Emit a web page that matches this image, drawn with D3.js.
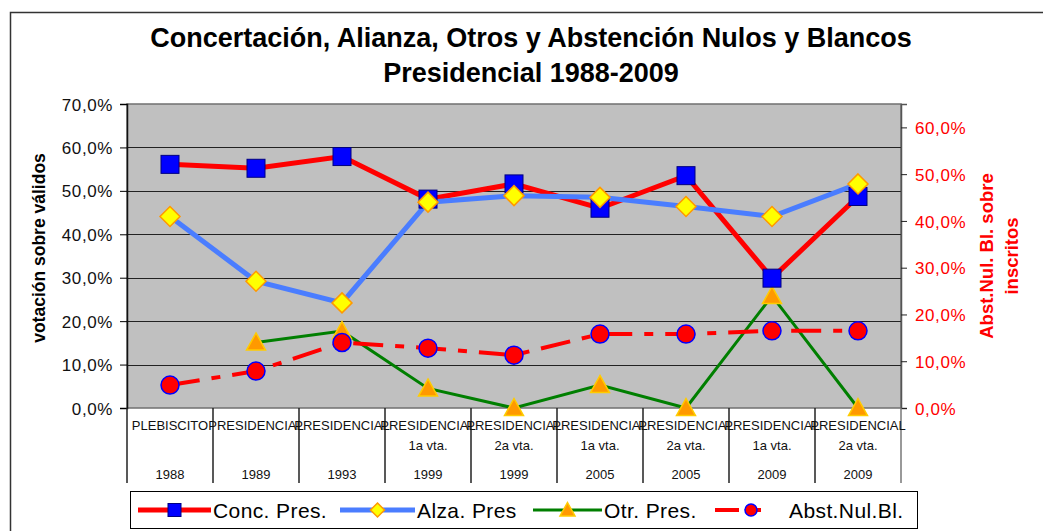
<!DOCTYPE html>
<html>
<head>
<meta charset="utf-8">
<script src="https://cdn.jsdelivr.net/npm/d3@7"></script>
<style>
  body { margin: 0; background: #fff; }
  svg, svg text { font-family: "Liberation Sans", Arial, sans-serif; }
</style>
</head>
<body>
<div id="graph"></div>
<script>
// categories (three-level axis)
var catTop = ["PLEBISCITO", "PRESIDENCIAL", "PRESIDENCIAL", "PRESIDENCIAL", "PRESIDENCIAL", "PRESIDENCIAL", "PRESIDENCIAL", "PRESIDENCIAL", "PRESIDENCIAL"];
var catMid = ["", "", "", "1a vta.", "2a vta.", "1a vta.", "2a vta.", "1a vta.", "2a vta."];
var catYear = ["1988", "1989", "1993", "1999", "1999", "2005", "2005", "2009", "2009"];

// series (percent)
var concPres = [56.1, 55.2, 57.9, 48.1, 51.6, 46.0, 53.5, 29.9, 48.7];
var alzaPres = [44.1, 29.2, 24.2, 47.4, 48.9, 48.5, 46.4, 44.1, 51.6];
var otrPres = [null, 15.1, 17.7, 4.5, 0, 5.3, 0, 25.8, 0];
var abstNulBl = [4.9, 7.9, 14.0, 12.8, 11.3, 15.8, 15.8, 16.5, 16.5]; // right axis

var leftTicks = [0, 10, 20, 30, 40, 50, 60, 70];
var rightTicks = [0, 10, 20, 30, 40, 50, 60];

var W = 1043, H = 531;
var plot = {left: 127, right: 901, top: 104, bottom: 408};

var svg = d3.select("#graph").append("svg")
  .attr("width", W).attr("height", H);

// outer chart frame
svg.append("rect")
  .attr("x", 10.5).attr("y", 12.5).attr("width", W + 10).attr("height", H + 10)
  .attr("fill", "none").attr("stroke", "#333").attr("stroke-width", 1.5);

var xScale = d3.scaleBand().domain(d3.range(catTop.length))
  .range([plot.left, plot.right]);
var yLeft = d3.scaleLinear().domain([0, 70]).range([plot.bottom, plot.top]);
var yRight = d3.scaleLinear().domain([0, 65]).range([plot.bottom, plot.top]);
var cx = function(i) { return xScale(i) + xScale.bandwidth() / 2; };
var pct = function(d) { return d.toFixed(1).replace(".", ",") + "%"; };

// plot background
svg.append("rect")
  .attr("x", plot.left).attr("y", plot.top)
  .attr("width", plot.right - plot.left).attr("height", plot.bottom - plot.top)
  .attr("fill", "#c0c0c0").attr("stroke", "#707070").attr("stroke-width", 1.5);

// gridlines
svg.append("g").selectAll("line").data(leftTicks.slice(1, -1)).enter().append("line")
  .attr("x1", plot.left).attr("x2", plot.right)
  .attr("y1", function(d) { return Math.round(yLeft(d)) + 0.5; })
  .attr("y2", function(d) { return Math.round(yLeft(d)) + 0.5; })
  .attr("stroke", "#222").attr("stroke-width", 1);

// left axis
var axL = svg.append("g")
  .attr("transform", "translate(" + plot.left + ",0)")
  .call(d3.axisLeft(yLeft).tickValues(leftTicks).tickSize(7).tickPadding(7).tickFormat(pct));
axL.attr("font-family", "Liberation Sans, Arial, sans-serif").attr("font-size", 17);
axL.select(".domain").attr("stroke", "#111").attr("stroke-width", 1.5);
axL.selectAll("text").attr("fill", "#111").attr("dy", "0.36em").attr("letter-spacing", 0.6);

// right axis
var axR = svg.append("g")
  .attr("transform", "translate(" + plot.right + ",0)")
  .call(d3.axisRight(yRight).tickValues(rightTicks).tickSize(6).tickPadding(8).tickFormat(pct));
axR.attr("font-family", "Liberation Sans, Arial, sans-serif").attr("font-size", 17);
axR.select(".domain").attr("stroke", "#555").attr("stroke-width", 1.5);
axR.selectAll("line").attr("stroke", "#222");
axR.selectAll("text").attr("fill", "#ff0000").attr("dy", "0.36em").attr("letter-spacing", 0.6);

// category separators & labels
var cats = svg.append("g");
cats.selectAll("line").data(d3.range(catTop.length + 1)).enter().append("line")
  .attr("x1", function(i) { return plot.left + i * xScale.bandwidth(); })
  .attr("x2", function(i) { return plot.left + i * xScale.bandwidth(); })
  .attr("y1", plot.bottom).attr("y2", 483)
  .attr("stroke", function(i) { return i === catTop.length ? "#777" : "#222"; })
  .attr("stroke-width", 1.5);
[[catTop, 430], [catMid, 450], [catYear, 479]].forEach(function(row) {
  cats.append("g").selectAll("text").data(row[0]).enter().append("text")
    .attr("x", function(d, i) { return cx(i); })
    .attr("y", row[1])
    .attr("text-anchor", "middle")
    .attr("font-size", 13).attr("fill", "#111")
    .text(function(d) { return d; });
});

// line series
function drawLine(data, y, color, width, dash) {
  var line = d3.line()
    .defined(function(d) { return d !== null; })
    .x(function(d, i) { return cx(i); })
    .y(function(d) { return y(d); });
  svg.append("path").datum(data)
    .attr("d", line)
    .attr("fill", "none").attr("stroke", color).attr("stroke-width", width)
    .attr("stroke-dasharray", dash || null);
}
drawLine(concPres, yLeft, "#ff0000", 5);
drawLine(alzaPres, yLeft, "#4a7dff", 5);
drawLine(otrPres, yLeft, "#007f00", 3);
drawLine(abstNulBl, yRight, "#ff0000", 4, "30,12,9,12");

// markers
function square(g, x, y, s) {
  g.append("rect").attr("x", x - s / 2).attr("y", y - s / 2).attr("width", s).attr("height", s)
    .attr("fill", "#0000ff").attr("stroke", "#000080").attr("stroke-width", 1);
}
function diamond(g, x, y, s) {
  g.append("path").attr("d", "M" + x + "," + (y - s) + "L" + (x + s) + "," + y + "L" + x + "," + (y + s) + "L" + (x - s) + "," + y + "Z")
    .attr("fill", "#ffff00").attr("stroke", "#ff9900").attr("stroke-width", 1.5);
}
function triangle(g, x, y, s) {
  g.append("path").attr("d", "M" + x + "," + (y - s) + "L" + (x + s) + "," + (y + s * 0.8) + "L" + (x - s) + "," + (y + s * 0.8) + "Z")
    .attr("fill", "#ff9900").attr("stroke", "#ffcc00").attr("stroke-width", 1.5);
}
function circle(g, x, y, r) {
  g.append("circle").attr("cx", x).attr("cy", y).attr("r", r)
    .attr("fill", "#ff0000").attr("stroke", "#0000ff").attr("stroke-width", 1.5);
}
var mk = svg.append("g");
otrPres.forEach(function(v, i) { if (v !== null) triangle(mk, cx(i), yLeft(v), 9.5); });
abstNulBl.forEach(function(v, i) { circle(mk, cx(i), yRight(v), 9); });
concPres.forEach(function(v, i) { square(mk, cx(i), yLeft(v), 18); });
alzaPres.forEach(function(v, i) { diamond(mk, cx(i), yLeft(v), 10); });

// title
var title = svg.append("text").attr("text-anchor", "middle")
  .attr("font-size", 27).attr("font-weight", "bold").attr("fill", "#000");
title.append("tspan").attr("x", 531).attr("y", 47).text("Concertación, Alianza, Otros y Abstención Nulos y Blancos");
title.append("tspan").attr("x", 531).attr("y", 82).text("Presidencial 1988-2009");

// axis titles
svg.append("text")
  .attr("transform", "translate(45,248) rotate(-90)")
  .attr("text-anchor", "middle").attr("font-size", 17.5).attr("font-weight", "bold")
  .text("votación sobre  válidos");
var rt = svg.append("text")
  .attr("transform", "translate(993,256) rotate(-90)")
  .attr("text-anchor", "middle").attr("font-size", 18.5).attr("font-weight", "bold").attr("fill", "#ff0000");
rt.append("tspan").attr("x", 0).attr("y", 0).text("Abst.Nul. Bl. sobre");
rt.append("tspan").attr("x", 0).attr("y", 25).text("inscritos");

// legend
var lg = svg.append("g");
lg.append("rect").attr("x", 130.5).attr("y", 491.5).attr("width", 787).attr("height", 37)
  .attr("fill", "#fff").attr("stroke", "#000").attr("stroke-width", 1);
var legendItems = [
  {name: "Conc. Pres.", x: 138, len: 73, color: "#ff0000", w: 5, mark: square, size: 13},
  {name: "Alza. Pres", x: 340, len: 75, color: "#4a7dff", w: 5, mark: diamond, size: 7},
  {name: "Otr. Pres.", x: 533, len: 69, color: "#007f00", w: 3, mark: triangle, size: 7.5},
  {name: "Abst.Nul.Bl.", x: 715, len: 72, color: "#ff0000", w: 4, mark: circle, size: 6, dash: "24,12,10,30"}
];
legendItems.forEach(function(d) {
  var ly = 510;
  lg.append("line").attr("x1", d.x).attr("x2", d.x + d.len).attr("y1", ly).attr("y2", ly)
    .attr("stroke", d.color).attr("stroke-width", d.w)
    .attr("stroke-dasharray", d.dash || null);
  d.mark(lg, d.x + d.len / 2, ly, d.size);
  lg.append("text").attr("x", d.x + d.len + 2).attr("y", ly + 7.5)
    .attr("font-size", 21).attr("letter-spacing", 0.4).attr("fill", "#000").text(d.name);
});
</script>
</body>
</html>
